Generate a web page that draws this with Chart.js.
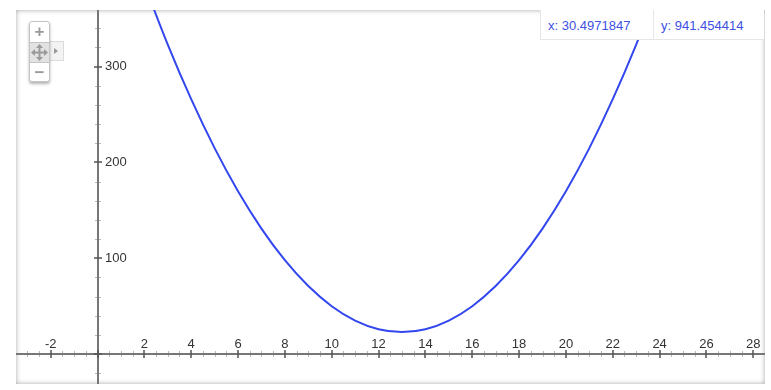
<!DOCTYPE html>
<html>
<head>
<meta charset="utf-8">
<script src="https://cdn.jsdelivr.net/npm/chart.js@4.4.1/dist/chart.umd.min.js"></script>
<style>
  html, body { margin: 0; padding: 0; background: #fff; }
  body { width: 771px; height: 390px; position: relative; overflow: hidden; font-family: "Liberation Sans", Arial, sans-serif; }
  #frame { position: absolute; left: 16px; top: 10px; width: 749px; height: 374px; box-shadow: inset 0 0 5px rgba(0,0,0,.35); }
  #frame canvas { position: absolute; left: 0; top: 0; }
  #coords { position: absolute; left: 540px; top: 10px; width: 223px; height: 29px; background: #fff;
            border: 1px solid #e6e6e6; border-top: none; border-right: none; display: flex; font-size: 13px; color: #3d50e2; }
  #coords div { line-height: 31px; padding-left: 7px; box-sizing: border-box; }
  #coords div:first-child { width: 113px; border-right: 1px solid #e6e6e6; }
  #zoom { position: absolute; left: 29px; top: 21px; width: 21px; height: 61px; background: #fff;
          border: 1px solid #c4c4c4; border-radius: 3px; box-shadow: 0 2px 3px rgba(0,0,0,.3); box-sizing: border-box; }
  #zoom .btn { height: 20px; display: flex; align-items: center; justify-content: center; color: #999; font-size: 17px; font-weight: bold; }
  #zoom .pan { background: #e2e2e2; border-top: 1px solid #c4c4c4; border-bottom: 1px solid #c4c4c4; height: 19px; }
  #tab { position: absolute; left: 50px; top: 41px; width: 14px; height: 20px; background: #f3f3f3; border: 1px solid #dcdcdc; border-left: none; box-sizing: border-box; }
  #tab:after { content: ""; position: absolute; left: 4px; top: 6px; border-left: 4px solid #999; border-top: 3.5px solid transparent; border-bottom: 3.5px solid transparent; }
</style>
</head>
<body>
<div id="frame"><canvas id="plot" width="749" height="374"></canvas></div>
<div id="tab"></div>
<div id="zoom">
  <div class="btn">+</div>
  <div class="btn pan">
    <svg width="17" height="17" viewBox="0 0 17 17">
      <g fill="#9a9a9a">
        <rect x="7.5" y="2" width="2" height="13"/><rect x="2" y="7.5" width="13" height="2"/>
        <polygon points="8.5,0 12,4 5,4"/><polygon points="8.5,17 12,13 5,13"/>
        <polygon points="0,8.5 4,5 4,12"/><polygon points="17,8.5 13,5 13,12"/>
      </g>
    </svg>
  </div>
  <div class="btn">−</div>
</div>
<div id="coords"><div>x: 30.4971847</div><div>y: 941.454414</div></div>
<script>
// curve (x, y)
const xs = [2, 3, 4, 5, 6, 7, 8, 9, 10, 11, 12, 13, 14, 15, 16, 17, 18, 19, 20, 21, 22, 23, 24];
const ys = [386, 323, 266, 215, 170, 131, 98, 71, 50, 35, 26, 23, 26, 35, 50, 71, 98, 131, 170, 215, 266, 323, 386];

// visible window
const X_MIN = -3.48, X_MAX = 28.5;
const Y_MIN = -31.2, Y_MAX = 359.1;

// tick labels
const xLabels = [-2, 2, 4, 6, 8, 10, 12, 14, 16, 18, 20, 22, 24, 26, 28];
const yLabels = [100, 200, 300];
const X_MINOR = 0.5, Y_MINOR = 20;

const LINE = '#3347ee';

// axes through the origin, ticks crossing the line, labels like the old google plot
const originAxes = {
  id: 'originAxes',
  beforeDatasetsDraw(chart) {
    const { ctx, chartArea: a, scales: { x, y } } = chart;
    const x0 = Math.round(x.getPixelForValue(0));
    const y0 = Math.round(y.getPixelForValue(0));
    ctx.save();

    // minor ticks
    ctx.lineWidth = 1;
    ctx.strokeStyle = '#b8b8b8';
    ctx.beginPath();
    for (let v = Math.ceil(X_MIN / X_MINOR) * X_MINOR; v <= X_MAX; v += X_MINOR) {
      if (Math.abs(v % 2) < 1e-6) continue;
      const px = Math.round(x.getPixelForValue(v)) + 0.5;
      ctx.moveTo(px, y0 - 3); ctx.lineTo(px, y0 + 3);
    }
    for (let v = Math.ceil(Y_MIN / Y_MINOR) * Y_MINOR; v <= Y_MAX; v += Y_MINOR) {
      if (Math.abs(v % 100) < 1e-6) continue;
      const py = Math.round(y.getPixelForValue(v)) + 0.5;
      ctx.moveTo(x0 - 3, py); ctx.lineTo(x0 + 3, py);
    }
    ctx.stroke();

    // axis lines
    ctx.strokeStyle = '#777';
    ctx.lineWidth = 2;
    ctx.beginPath();
    ctx.moveTo(a.left, y0); ctx.lineTo(a.right, y0);
    ctx.moveTo(x0, a.top); ctx.lineTo(x0, a.bottom);
    ctx.stroke();

    // major ticks
    ctx.strokeStyle = '#555';
    ctx.lineWidth = 1.5;
    ctx.beginPath();
    for (let v = -2; v <= X_MAX; v += 2) {
      const px = Math.round(x.getPixelForValue(v));
      ctx.moveTo(px, y0 - 4); ctx.lineTo(px, y0 + 4);
    }
    for (let v = -100; v <= Y_MAX; v += 100) {
      if (v < Y_MIN) continue;
      const py = Math.round(y.getPixelForValue(v));
      ctx.moveTo(x0 - 4, py); ctx.lineTo(x0 + 4, py);
    }
    ctx.stroke();

    // labels
    ctx.fillStyle = '#333';
    ctx.font = '13px "Liberation Sans", Arial, sans-serif';
    ctx.textAlign = 'center';
    ctx.textBaseline = 'middle';
    xLabels.forEach(v => ctx.fillText(String(v), x.getPixelForValue(v), y0 - 10));
    ctx.textAlign = 'left';
    yLabels.forEach(v => ctx.fillText(String(v), x0 + 7, y.getPixelForValue(v)));
    ctx.restore();
  },
};

new Chart(document.getElementById('plot'), {
  type: 'line',
  data: {
    datasets: [{
      data: xs.map((v, i) => ({ x: v, y: ys[i] })),
      borderColor: LINE, borderWidth: 2,
      pointRadius: 0, tension: 0.4, fill: false,
    }],
  },
  options: {
    responsive: false, animation: false, devicePixelRatio: 1,
    layout: { padding: 0 },
    plugins: { legend: { display: false }, tooltip: { enabled: false } },
    scales: {
      x: { type: 'linear', display: false, min: X_MIN, max: X_MAX },
      y: { type: 'linear', display: false, min: Y_MIN, max: Y_MAX },
    },
  },
  plugins: [originAxes],
});
</script>
</body>
</html>
